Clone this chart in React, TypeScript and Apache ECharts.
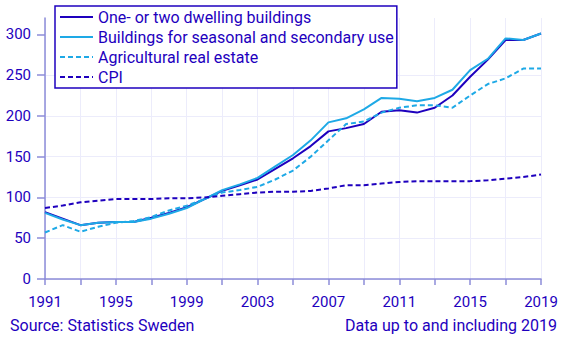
import React, { useEffect, useRef } from "react";
import * as echarts from "echarts";

const years = Array.from({ length: 29 }, (_, i) => String(1991 + i));
const oneTwoDwelling = [82, 74, 66, 69, 70, 70, 75, 81, 88, 98, 108, 115, 122, 135, 148, 163, 181, 185, 190, 205, 207, 204, 210, 225, 248, 269, 293, 293, 301];
const seasonal = [81, 73, 66, 69, 70, 70, 74, 80, 87, 98, 109, 116, 124, 138, 152, 170, 192, 197, 208, 222, 221, 218, 222, 232, 256, 270, 295, 293, 301];
const agricultural = [57, 66, 58, 64, 69, 71, 76, 84, 90, 98, 106, 109, 113, 122, 133, 150, 170, 190, 193, 204, 210, 213, 213, 210, 225, 239, 246, 258, 258];
const cpi = [87, 90, 94, 96, 98, 98, 98, 99, 99, 100, 102, 104, 106, 107, 107, 108, 111, 115, 115, 117, 119, 120, 120, 120, 120, 121, 123, 125, 128];
const yTicks = [0, 50, 100, 150, 200, 250, 300];

const NAVY = "#1e00be";
const LIGHT = "#1ea9e6";
const AXIS = "#8c8cd8";
const GRID = "#ececfb";
const FONT = "Roboto";

export default function App() {
  const ref = useRef<HTMLDivElement>(null);
  useEffect(() => {
    const chart = echarts.init(ref.current!, null, { renderer: "svg" });
    const mk = (name: string, data: number[], color: string, dashed: boolean) => ({
      name,
      type: "line",
      data,
      symbol: "none",
      lineStyle: { color, width: 2, type: dashed ? [5, 3] : "solid" },
      itemStyle: { color },
    });
    chart.setOption({
      animation: false,
      textStyle: { fontFamily: FONT },
      grid: { left: 45, right: 27, top: 18, bottom: 62 },
      legend: {
        orient: "vertical",
        left: 55,
        top: 6,
        itemWidth: 33,
        itemHeight: 14,
        itemGap: 4,
        padding: [3, 3, 3, 4],
        borderColor: NAVY,
        borderWidth: 1.5,
        backgroundColor: "#fff",
        itemStyle: { opacity: 0 },
        textStyle: { color: NAVY, fontSize: 16, fontFamily: FONT },
        data: [
          "One- or two dwelling buildings",
          "Buildings for seasonal and secondary use",
          "Agricultural real estate",
          "CPI",
        ],
      },
      xAxis: {
        type: "category",
        data: years,
        boundaryGap: false,
        axisLine: { lineStyle: { color: AXIS, width: 1.5 } },
        axisTick: { interval: 1, length: 6, lineStyle: { color: AXIS, width: 1.5 } },
        axisLabel: { interval: 3, color: NAVY, fontSize: 15, fontFamily: FONT, margin: 15 },
        splitLine: { show: true, interval: 1, lineStyle: { color: GRID, width: 1 } },
      },
      yAxis: {
        type: "value",
        min: 0,
        max: 320,
        interval: 50,
        axisLine: { show: true, lineStyle: { color: AXIS, width: 1.5 } },
        axisTick: { show: true, length: 8, customValues: yTicks, lineStyle: { color: AXIS, width: 1.5 } },
        axisLabel: { color: NAVY, fontSize: 15, fontFamily: FONT, margin: 14, customValues: yTicks },
        splitLine: { show: true, showMaxLine: false, lineStyle: { color: GRID, width: 1 } },
      },
      series: [
        mk("One- or two dwelling buildings", oneTwoDwelling, NAVY, false),
        mk("Buildings for seasonal and secondary use", seasonal, LIGHT, false),
        mk("Agricultural real estate", agricultural, LIGHT, true),
        mk("CPI", cpi, NAVY, true),
      ],
      graphic: [
        { type: "text", left: 10, top: 317, style: { text: "Source: Statistics Sweden", fill: NAVY, font: `16px ${FONT}` } },
        { type: "text", right: 11, top: 317, style: { text: "Data up to and including 2019", fill: NAVY, font: `16px ${FONT}` } },
      ],
    });
    return () => chart.dispose();
  }, []);
  return <div ref={ref} style={{ width: 568, height: 341, position: "absolute", left: 0, top: 0 }} />;
}
